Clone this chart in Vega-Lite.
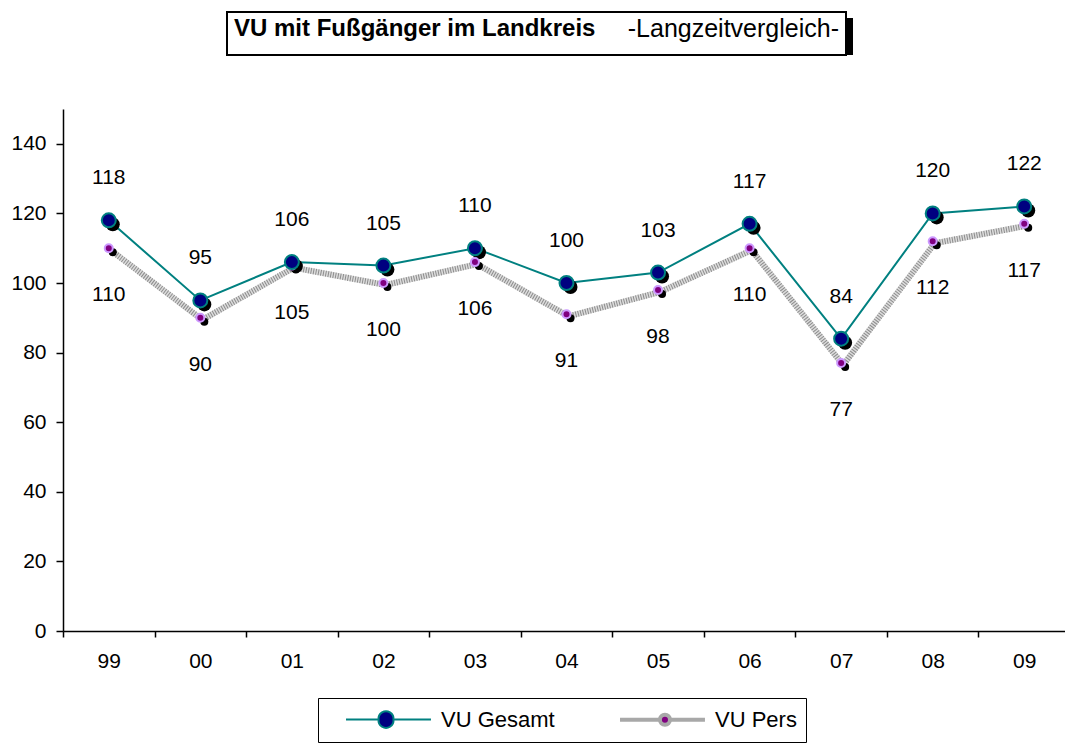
{
  "$schema": "https://vega.github.io/schema/vega-lite/v6.json",
  "background": "white",
  "padding": {"left": 10, "top": 11, "right": 0, "bottom": 0},
  "config": {
    "font": "Liberation Sans",
    "view": {"stroke": null},
    "axis": {"domainColor": "black", "tickColor": "black", "labelColor": "black", "domainWidth": 1.5, "tickWidth": 1.5, "labelFont": "Liberation Sans", "labelFontSize": 21, "grid": false, "title": null}
  },
  "bounds": "flush",
  "spacing": 97,
  "vconcat": [
    {
      "spacing": 20,
      "bounds": "flush",
      "hconcat": [
        {
          "width": 144,
          "height": 43,
          "data": {"values": [{"t": ""}]},
          "transform": [{"filter": "false"}],
          "mark": {"type": "point", "opacity": 0},
          "encoding": {}
        },
        {
          "width": 619,
          "height": 43,
          "data": {"values": [
            {"t": "VU mit Fußgänger im Landkreis", "w": "bold"},
            {"t": "-Langzeitvergleich-", "w": "normal"}
          ]},
          "layer": [
            {"mark": {"type": "rect", "color": "black", "xOffset": 7, "yOffset": 6}, "encoding": {}},
            {"mark": {"type": "rect", "fill": "white", "stroke": "black", "strokeWidth": 2}, "encoding": {}},
            {
              "transform": [{"filter": "datum.w == 'bold'"}],
              "mark": {"type": "text", "fontWeight": "bold", "fontSize": 24, "align": "left", "baseline": "middle", "color": "black", "dy": -5},
              "encoding": {
                "text": {"field": "t"},
                "x": {"field": "t", "type": "nominal", "sort": null, "axis": null, "scale": {"type": "point", "domain": ["VU mit Fußgänger im Landkreis", "-Langzeitvergleich-"], "padding": 0.0116}}
              }
            },
            {
              "transform": [{"filter": "datum.w == 'normal'"}],
              "mark": {"type": "text", "fontWeight": "normal", "fontSize": 25, "align": "right", "baseline": "middle", "color": "black", "dy": -5},
              "encoding": {
                "text": {"field": "t"},
                "x": {"field": "t", "type": "nominal", "sort": null, "axis": null}
              }
            }
          ]
        }
      ]
    },
    {
      "width": 1007,
      "height": 522,
      "data": {"values": [
        {"year": "99", "series": "VU Gesamt", "value": 118},
        {"year": "99", "series": "VU Pers", "value": 110},
        {"year": "00", "series": "VU Gesamt", "value": 95},
        {"year": "00", "series": "VU Pers", "value": 90},
        {"year": "01", "series": "VU Gesamt", "value": 106},
        {"year": "01", "series": "VU Pers", "value": 105},
        {"year": "02", "series": "VU Gesamt", "value": 105},
        {"year": "02", "series": "VU Pers", "value": 100},
        {"year": "03", "series": "VU Gesamt", "value": 110},
        {"year": "03", "series": "VU Pers", "value": 106},
        {"year": "04", "series": "VU Gesamt", "value": 100},
        {"year": "04", "series": "VU Pers", "value": 91},
        {"year": "05", "series": "VU Gesamt", "value": 103},
        {"year": "05", "series": "VU Pers", "value": 98},
        {"year": "06", "series": "VU Gesamt", "value": 117},
        {"year": "06", "series": "VU Pers", "value": 110},
        {"year": "07", "series": "VU Gesamt", "value": 84},
        {"year": "07", "series": "VU Pers", "value": 77},
        {"year": "08", "series": "VU Gesamt", "value": 120},
        {"year": "08", "series": "VU Pers", "value": 112},
        {"year": "09", "series": "VU Gesamt", "value": 122},
        {"year": "09", "series": "VU Pers", "value": 117}
      ]},
      "encoding": {
        "x": {"field": "year", "type": "ordinal", "sort": null,
              "scale": {"type": "band", "paddingInner": 0, "paddingOuter": 0},
              "axis": {"tickBand": "extent", "tickSize": 6, "labelPadding": 13, "labelAngle": 0}},
        "y": {"field": "value", "type": "quantitative",
              "scale": {"domain": [0, 150], "nice": false},
              "axis": {"values": [0, 20, 40, 60, 80, 100, 120, 140], "tickSize": 7, "labelPadding": 10}}
      },
      "layer": [
        {
          "transform": [{"filter": "datum.series == 'VU Pers'"}],
          "mark": {"type": "line", "color": "#dcdcdc", "strokeWidth": 6, "xOffset": 2, "yOffset": 2}
        },
        {
          "transform": [{"filter": "datum.series == 'VU Pers'"}],
          "mark": {"type": "line", "color": "#8c8c8c", "strokeWidth": 6, "strokeDash": [1, 1.5], "xOffset": 2, "yOffset": 2}
        },
        {
          "transform": [{"filter": "datum.series == 'VU Pers'"}],
          "mark": {"type": "point", "shape": "circle", "filled": true, "color": "black", "size": 64, "xOffset": 4, "yOffset": 4, "opacity": 1}
        },
        {
          "transform": [{"filter": "datum.series == 'VU Gesamt'"}],
          "mark": {"type": "line", "color": "#008080", "strokeWidth": 2}
        },
        {
          "transform": [{"filter": "datum.series == 'VU Gesamt'"}],
          "mark": {"type": "point", "shape": "circle", "filled": true, "color": "black", "size": 196, "xOffset": 4, "yOffset": 4, "opacity": 1}
        },
        {
          "transform": [{"filter": "datum.series == 'VU Pers'"}],
          "mark": {"type": "point", "shape": "circle", "filled": true, "fill": "#800080", "stroke": "#cc99ff", "strokeWidth": 2, "size": 64, "opacity": 1}
        },
        {
          "transform": [{"filter": "datum.series == 'VU Gesamt'"}],
          "mark": {"type": "point", "shape": "circle", "filled": true, "fill": "#000080", "stroke": "#008080", "strokeWidth": 2, "size": 196, "opacity": 1}
        },
        {
          "transform": [{"filter": "datum.series == 'VU Gesamt'"}],
          "mark": {"type": "text", "fontSize": 21, "dy": -42, "color": "black", "baseline": "middle"},
          "encoding": {"text": {"field": "value", "type": "quantitative"}}
        },
        {
          "transform": [{"filter": "datum.series == 'VU Pers'"}],
          "mark": {"type": "text", "fontSize": 21, "dy": 47, "color": "black", "baseline": "middle"},
          "encoding": {"text": {"field": "value", "type": "quantitative"}}
        },
        {
          "transform": [{"filter": "false"}],
          "mark": {"type": "point", "filled": true, "opacity": 1},
          "encoding": {
            "fill": {"field": "series", "type": "nominal",
                     "scale": {"domain": ["VU Gesamt", "VU Pers"], "range": ["#000080", "#800080"]},
                     "legend": {"title": null, "orient": "none", "legendX": 255, "legendY": 686, "direction": "horizontal", "columns": 2, "columnPadding": 46,
                                "padding": 9, "strokeColor": "black", "fillColor": "white", "labelFontSize": 22, "labelFont": "Liberation Sans", "labelColor": "black",
                                "labelOffset": 89, "symbolSize": 441, "symbolOpacity": 1}},
            "stroke": {"field": "series", "type": "nominal",
                       "scale": {"domain": ["VU Gesamt", "VU Pers"], "range": ["#008080", "#a8a8a8"]}},
            "shape": {"field": "series", "type": "nominal",
                      "scale": {"domain": ["VU Gesamt", "VU Pers"], "range": [
                        "M0.62,0H3.72M5.14,0H8.71M3.72,0A0.714,0.714,0,1,1,5.14,0A0.714,0.714,0,1,1,3.72,0Z",
                        "M0.62,0H4.42M5.38,0H8.71M4.42,0A0.476,0.476,0,1,1,5.38,0A0.476,0.476,0,1,1,4.42,0Z"
                      ]}},
            "strokeWidth": {"field": "series", "type": "ordinal",
                            "scale": {"domain": ["VU Gesamt", "VU Pers"], "range": [2, 4]}}
          }
        }
      ]
    }
  ]
}
